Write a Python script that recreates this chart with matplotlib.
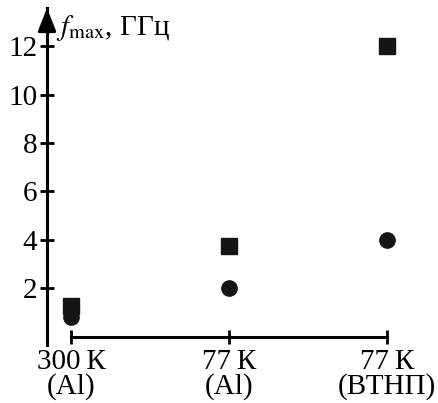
import matplotlib.pyplot as plt

# Data
categories = ["300\u2009К\n(Al)", "77\u2009К\n(Al)", "77\u2009К\n(ВТНП)"]
f_square = [1.25, 3.75, 12.0]
f_circle = [0.8, 2.0, 4.0]
y_ticks = [2, 4, 6, 8, 10, 12]

plt.rcParams['font.family'] = ['Liberation Serif', 'DejaVu Serif']
plt.rcParams['mathtext.fontset'] = 'stix'

W, H = 439, 403
fig = plt.figure(figsize=(W / 100, H / 100), dpi=100)

# axes box in pixels: left at y-axis line, bottom at its lower end
left_px, right_px, top_px, bot_px = 47, 425, 8, 345
ax = fig.add_axes([left_px / W, 1 - bot_px / H, (right_px - left_px) / W, (bot_px - top_px) / H])

# scales: x index 0 -> 71 px, 158 px per step; y 0 -> 336.6 px, 24.2 px per unit
xpx = 158.0
ypx = 24.2
ax.set_xlim((left_px - 71) / xpx, (right_px - 71) / xpx)
ax.set_ylim(-(bot_px - 336.6) / ypx, (336.6 - top_px) / ypx)

x = range(len(categories))
ax.plot(x, f_circle, 'o', color='#151515', markersize=11, linestyle='none')
ax.plot(x, f_square, 's', color='#151515', markersize=11, linestyle='none')

for s in ['top', 'right']:
    ax.spines[s].set_visible(False)
ax.spines['left'].set_linewidth(2.2)
ax.spines['bottom'].set_linewidth(2.2)
ax.spines['bottom'].set_position(('data', 0))
ax.spines['bottom'].set_bounds(0, len(categories) - 1)

ax.set_xticks(list(x))
ax.set_xticklabels(categories, fontsize=21, linespacing=0.9)
ax.set_yticks(y_ticks)
ax.set_yticklabels([str(v) for v in y_ticks], fontsize=21)
ax.tick_params(axis='both', direction='inout', length=10, width=2)
ax.tick_params(axis='y', pad=2)
ax.tick_params(axis='x', pad=4)

# arrow head on the y axis
ax.annotate('', xy=(0, 1.0), xycoords='axes fraction', xytext=(0, 0.93),
            arrowprops=dict(arrowstyle='-|>,head_length=1.4,head_width=0.55',
                            color='black', lw=2.2, shrinkA=0, shrinkB=0))

ax.text(0.025, 0.985, r"$f_{\mathrm{max}}$, ГГц", transform=ax.transAxes,
        fontsize=21, ha='left', va='top')

fig.savefig('out.png', dpi=100)
